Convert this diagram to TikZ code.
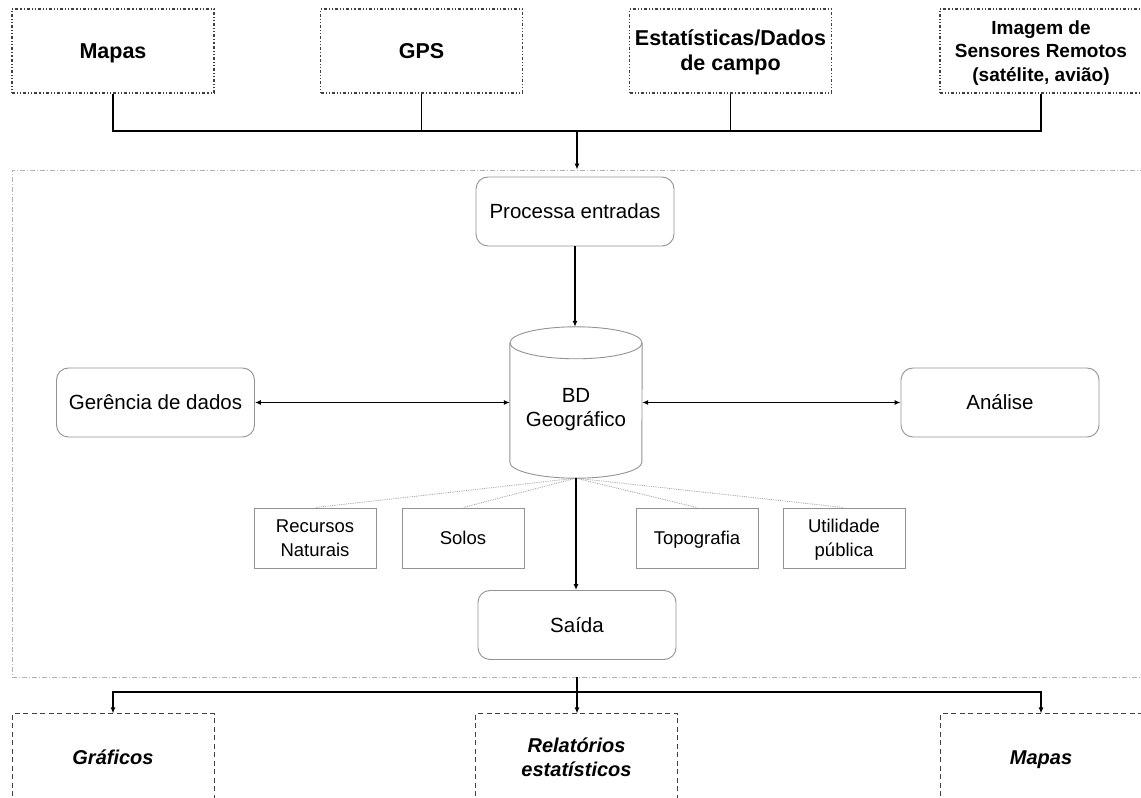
\documentclass[tikz,border=0pt]{standalone}
\usepackage{fontspec}
\setmainfont{Liberation Sans}
\usetikzlibrary{arrows.meta,positioning,calc}

\begin{document}
\begin{tikzpicture}[x=1pt, y=1pt, font=\fontsize{20.5}{24}\selectfont]
  \tikzset{src/.style={draw=black!75, line width=1.1pt, dash dot dot, minimum width=202pt, minimum height=84pt, align=center, font=\fontsize{21.5}{25}\selectfont\bfseries, text height=19.4pt, text depth=4.5pt},
    rbox/.style={draw=gray!85, line width=0.9pt, rounded corners=12pt, minimum width=198pt, minimum height=69pt, align=center, text height=18.5pt, text depth=4.3pt},
    sub/.style={draw=gray!85, line width=0.9pt, minimum width=122pt, minimum height=60pt, align=center, font=\fontsize{18.5}{23.5}\selectfont, text height=16.7pt, text depth=3.9pt},
    dst/.style={draw=black!75, line width=1pt, dash pattern=on 5pt off 3.5pt, minimum width=202pt, minimum height=88pt, align=center, font=\fontsize{20}{24}\selectfont\bfseries\itshape, text height=18pt, text depth=4.2pt},
    lnk/.style={line width=1.5pt},
    con/.style={line width=1.4pt, -{Latex[length=6pt,width=5pt]}},
    dbl/.style={line width=1.5pt, {Latex[length=6pt,width=5pt]}-{Latex[length=6pt,width=5pt]}}}
  \path[use as bounding box, fill=white] (0,0) rectangle (1141,798);
  % data sources on top
  \node[src] (mapa) at (113,747) {Mapas};
  \node[src] (gps) at (421.5,747) {GPS};
  \node[src, text height=44.4pt] (est) at (730.5,747) {Estatísticas/Dados\\de campo};
  \node[src, font=\fontsize{19}{23.5}\selectfont\bfseries, text height=64.1pt, text depth=4pt] (img) at (1041,747) {Imagem de\\Sensores Remotos\\(satélite, avião)};
  \coordinate (hub) at (577,667);
  \draw[lnk] (mapa.south) |- (hub) -| (img.south);
  \draw[lnk] (gps.south) -- (gps.south |- hub); \draw[lnk] (est.south) -- (est.south |- hub);
  % the system itself
  \node[draw=gray!60, line width=0.8pt, dash pattern=on 5pt off 2pt on 1pt off 2pt, minimum width=1133pt, minimum height=507pt] (sig) at (578.5,374.5) {};
  \draw[con] (hub) -- (hub |- sig.north);
  \node[rbox] (proc) at (575,586.5) {Processa entradas};
  \node[minimum width=132pt, minimum height=151pt, label={[align=center, yshift=-7pt]center:BD\\Geográfico}] (bd) at (576,395.5) {};
  \draw[gray!85, line width=0.9pt] ([yshift=-16pt]bd.north) ellipse (66pt and 16pt);
  \draw[gray!85, line width=0.9pt] ([yshift=-16pt]bd.north west) -- ([yshift=16pt]bd.south west) arc (180:360:66pt and 16pt) -- ([yshift=-16pt]bd.north east);
  \node[rbox] (ger) at (155.5,395.5) {Gerência de dados};
  \node[rbox] (ana) at (1000,395.5) {Análise};
  \node[sub, text height=40.2pt] (rec) at (315,260) {Recursos\\Naturais};
  \node[sub] (sol) at (463,260) {Solos};
  \node[sub] (topo) at (697,260) {Topografia};
  \node[sub, text height=40.2pt] (uti) at (844,260) {Utilidade\\pública};
  \node[rbox] (sai) at (577,173) {Saída};
  \draw[con] (proc.south) -- (proc.south |- bd.north);
  \draw[dbl] (ger) -- (ger -| bd.west); \draw[dbl] (bd.east |- ana.west) -- (ana);
  \foreach \n in {rec,sol,topo,uti} \draw[gray!75, densely dotted, line width=0.8pt] (bd.south) -- (\n.north);
  \draw[con] (bd.south) -- (bd.south |- sai.north);
  % outputs
  \coordinate (split) at (577,106);
  \node[dst] (graf) at (113,40) {Gráficos};
  \node[dst, text height=42pt] (rel) at (576.5,40) {Relatórios\\estatísticos};
  \node[dst] (map2) at (1041,40) {Mapas};
  \draw[con] (split |- sig.south) -- (split |- rel.north);
  \draw[con] (split) -| (graf.north); \draw[con] (split) -| (map2.north);
\end{tikzpicture}
\end{document}
